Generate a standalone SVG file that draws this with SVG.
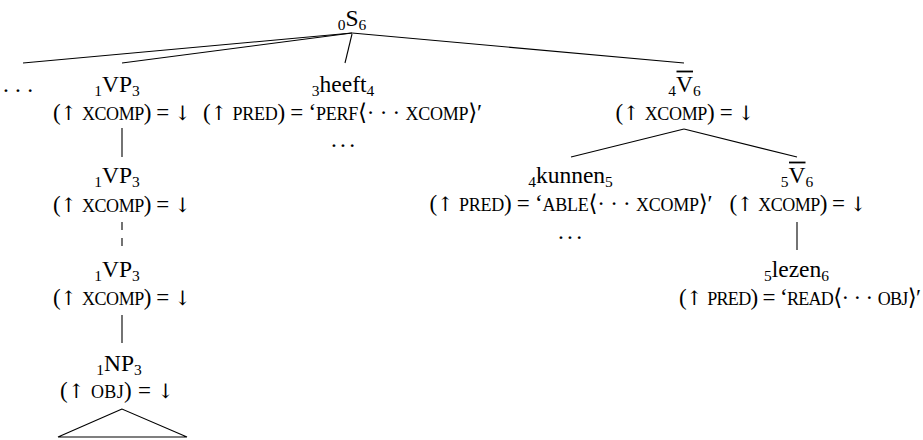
<svg xmlns="http://www.w3.org/2000/svg" width="923" height="440" viewBox="0 0 923 440">
  <style>
    text { font-family: "Liberation Serif", "DejaVu Serif", "DejaVu Sans", serif; fill: #000; text-anchor: middle; }
    .lab { font-size: 23.5px; }
    .feat { font-size: 23px; }
    .sub { font-size: 15.5px; }
    .sc { font-size: 18px; }
    .ar { font-family: "DejaVu Serif", serif; font-size: 20px; }
    .edge { stroke: #000; stroke-width: 1.1; fill: none; }
    .dash { stroke-dasharray: 8 8; }
    .bar { stroke: #000; stroke-width: 1.8; }
  </style>
  <rect width="923" height="440" fill="#fff"/>

  <!-- tree edges -->
  <g id="connectors" class="edge">
    <line x1="352" y1="33" x2="23" y2="63"/>
    <line x1="352" y1="33" x2="122" y2="63"/>
    <line x1="352" y1="34" x2="345" y2="63"/>
    <line x1="352" y1="33" x2="684" y2="63"/>
    <line x1="684" y1="129" x2="571" y2="157"/>
    <line x1="684" y1="129" x2="797" y2="157"/>
    <line x1="797" y1="222" x2="797" y2="250"/>
    <line x1="122" y1="128" x2="122" y2="157"/>
    <line class="dash" x1="122" y1="222" x2="122" y2="247"/>
    <line x1="122" y1="315" x2="122" y2="343"/>
    <polygon points="122,409 58,437 187,437"/>
  </g>

  <g id="n-S">
    <text class="lab" x="352" y="26"><tspan class="sub" dy="4">0</tspan><tspan dy="-4">S</tspan><tspan class="sub" dy="4">6</tspan></text>
  </g>

  <g id="n-dots">
    <text class="lab" x="18" y="92" textLength="30">. . .</text>
  </g>

  <g id="n-VP1">
    <text class="lab" x="117" y="92"><tspan class="sub" dy="4">1</tspan><tspan dy="-4">VP</tspan><tspan class="sub" dy="4">3</tspan></text>
    <text class="feat" x="122" y="120" textLength="138">(<tspan class="ar">↑</tspan> <tspan class="sc">XCOMP</tspan>) = <tspan class="ar">↓</tspan></text>
  </g>

  <g id="n-heeft">
    <text class="lab" x="343" y="92"><tspan class="sub" dy="4">3</tspan><tspan dy="-4">heeft</tspan><tspan class="sub" dy="4">4</tspan></text>
    <text class="feat" x="342.5" y="120" textLength="279">(<tspan class="ar">↑</tspan> <tspan class="sc">PRED</tspan>) = ‘<tspan class="sc">PERF</tspan>⟨· · · <tspan class="sc">XCOMP</tspan>⟩′</text>
    <text class="lab" x="343" y="147" textLength="24">. . .</text>
  </g>

  <g id="n-Vbar4">
    <text class="lab" x="684.5" y="92"><tspan class="sub" dy="4">4</tspan><tspan dy="-4">V</tspan><tspan class="sub" dy="4">6</tspan></text>
    <line class="bar" x1="676.5" y1="71.5" x2="693" y2="71.5"/>
    <text class="feat" x="685" y="120" textLength="139">(<tspan class="ar">↑</tspan> <tspan class="sc">XCOMP</tspan>) = <tspan class="ar">↓</tspan></text>
  </g>

  <g id="n-kunnen">
    <text class="lab" x="570.5" y="183"><tspan class="sub" dy="4">4</tspan><tspan dy="-4">kunnen</tspan><tspan class="sub" dy="4">5</tspan></text>
    <text class="feat" x="571" y="211" textLength="283">(<tspan class="ar">↑</tspan> <tspan class="sc">PRED</tspan>) = ‘<tspan class="sc">ABLE</tspan>⟨· · · <tspan class="sc">XCOMP</tspan>⟩′</text>
    <text class="lab" x="570" y="239" textLength="24">. . .</text>
  </g>

  <g id="n-Vbar5">
    <text class="lab" x="797" y="183"><tspan class="sub" dy="4">5</tspan><tspan dy="-4">V</tspan><tspan class="sub" dy="4">6</tspan></text>
    <line class="bar" x1="789" y1="162.5" x2="805.5" y2="162.5"/>
    <text class="feat" x="798" y="211" textLength="137">(<tspan class="ar">↑</tspan> <tspan class="sc">XCOMP</tspan>) = <tspan class="ar">↓</tspan></text>
  </g>

  <g id="n-lezen">
    <text class="lab" x="796.5" y="277"><tspan class="sub" dy="4">5</tspan><tspan dy="-4">lezen</tspan><tspan class="sub" dy="4">6</tspan></text>
    <text class="feat" x="800" y="305" textLength="242">(<tspan class="ar">↑</tspan> <tspan class="sc">PRED</tspan>) = ‘<tspan class="sc">READ</tspan>⟨· · · <tspan class="sc">OBJ</tspan>⟩′</text>
  </g>

  <g id="n-VP2">
    <text class="lab" x="117" y="183"><tspan class="sub" dy="4">1</tspan><tspan dy="-4">VP</tspan><tspan class="sub" dy="4">3</tspan></text>
    <text class="feat" x="122" y="212" textLength="138">(<tspan class="ar">↑</tspan> <tspan class="sc">XCOMP</tspan>) = <tspan class="ar">↓</tspan></text>
  </g>

  <g id="n-VP3">
    <text class="lab" x="117" y="277"><tspan class="sub" dy="4">1</tspan><tspan dy="-4">VP</tspan><tspan class="sub" dy="4">3</tspan></text>
    <text class="feat" x="122" y="305" textLength="138">(<tspan class="ar">↑</tspan> <tspan class="sc">XCOMP</tspan>) = <tspan class="ar">↓</tspan></text>
  </g>

  <g id="n-NP">
    <text class="lab" x="119" y="371"><tspan class="sub" dy="4">1</tspan><tspan dy="-4">NP</tspan><tspan class="sub" dy="4">3</tspan></text>
    <text class="feat" x="117" y="398" textLength="114">(<tspan class="ar">↑</tspan> <tspan class="sc">OBJ</tspan>) = <tspan class="ar">↓</tspan></text>
  </g>
</svg>
